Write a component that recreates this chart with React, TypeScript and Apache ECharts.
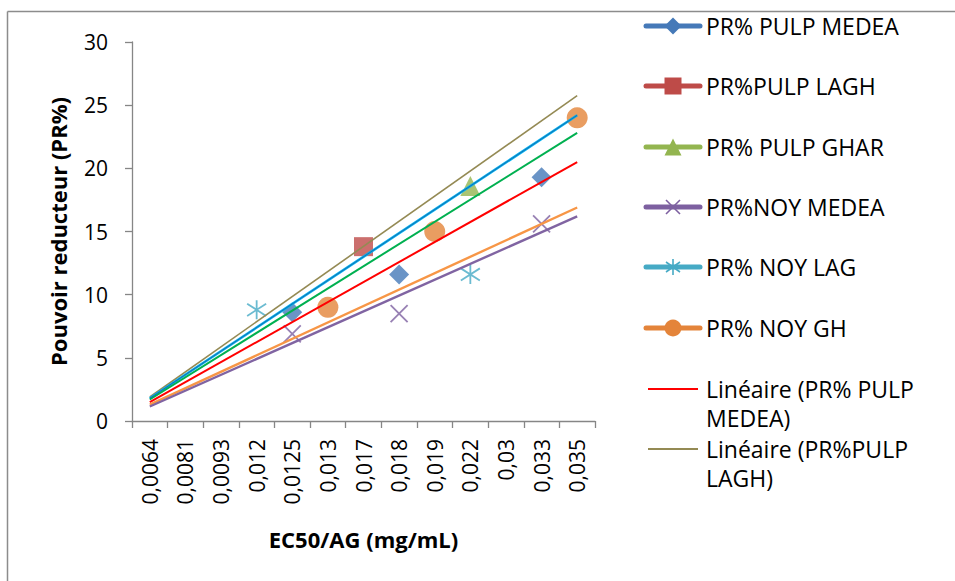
import React, { useEffect, useRef } from "react";
import * as echarts from "echarts";

// EC50/AG values (category axis labels)
const categories = [
  "0,0064", "0,0081", "0,0093", "0,012", "0,0125", "0,013", "0,017",
  "0,018", "0,019", "0,022", "0,03", "0,033", "0,035",
];

// Pouvoir réducteur per extract (null = no measurement at that EC50)
const pulpMedea = [null, null, null, null, 8.6, null, null, 11.6, null, null, null, 19.3, null];
const pulpLagh = [null, null, null, null, null, null, 13.8, null, null, null, null, null, null];
const pulpGhar = [null, null, null, null, null, null, null, null, null, 18.6, null, null, null];
const noyMedea = [null, null, null, null, 6.9, null, null, 8.5, null, null, null, 15.6, null];
const noyLag = [null, null, null, 8.8, null, null, null, null, null, 11.6, null, null, null];
const noyGh = [null, null, null, null, null, 9.0, null, null, 15.0, null, null, null, 24.0];

// Linear trend lines: value at first and last category
const trendPulpMedea = [1.5, 20.5];
const trendPulpLagh = [1.9, 25.75];
const trendPulpGhar = [1.7, 22.8];
const trendNoyMedea = [1.15, 16.2];
const trendNoyLag = [1.8, 24.2];
const trendNoyGh = [1.3, 16.9];

const yTicks = { min: 0, max: 30, interval: 5 };

const FONT = '"Open Sans", "Noto Sans", sans-serif';
const AXIS_GREY = "#868686";

const C = {
  blue: "#4579B8",
  red: "#BE4B48",
  green: "#93B550",
  purple: "#7D60A0",
  cyan: "#46AAC5",
  orange: "#E4843A",
};

const X_PATH = "path://M0,0L10,10M10,0L0,10";
const STAR_PATH = "path://M5,0L5,10M0.8,1.8L9.2,8.2M0.8,8.2L9.2,1.8";

function trend(name: string, ends: number[], color: string, width: number, z = 3) {
  return {
    type: "line",
    name,
    data: [
      [categories[0], ends[0]],
      [categories[categories.length - 1], ends[1]],
    ],
    symbol: "none",
    silent: true,
    lineStyle: { color, width },
    z,
  };
}

// Legend entries drawn at fixed rows on the right
const legendRows = [26, 86, 147, 207, 267, 328, 389, 449];
const LEGEND_LINE_HEIGHT = 29;

function legendMarker(kind: string, color: string, cx: number, cy: number): any[] {
  const s = 8.5;
  switch (kind) {
    case "diamond":
      return [{ type: "polygon", shape: { points: [[cx, cy - s], [cx + s, cy], [cx, cy + s], [cx - s, cy]] }, style: { fill: color } }];
    case "rect":
      return [{ type: "rect", shape: { x: cx - s, y: cy - s, width: 2 * s, height: 2 * s }, style: { fill: color } }];
    case "triangle":
      return [{ type: "polygon", shape: { points: [[cx, cy - s], [cx + s, cy + s], [cx - s, cy + s]] }, style: { fill: color } }];
    case "circle":
      return [{ type: "circle", shape: { cx, cy, r: s }, style: { fill: color } }];
    case "x":
      return [
        { type: "line", shape: { x1: cx - 7, y1: cy - 7, x2: cx + 7, y2: cy + 7 }, style: { stroke: color, lineWidth: 1.6 } },
        { type: "line", shape: { x1: cx + 7, y1: cy - 7, x2: cx - 7, y2: cy + 7 }, style: { stroke: color, lineWidth: 1.6 } },
      ];
    case "star":
      return [
        { type: "line", shape: { x1: cx, y1: cy - 8, x2: cx, y2: cy + 8 }, style: { stroke: color, lineWidth: 1.6 } },
        { type: "line", shape: { x1: cx - 7, y1: cy - 5, x2: cx + 7, y2: cy + 5 }, style: { stroke: color, lineWidth: 1.6 } },
        { type: "line", shape: { x1: cx - 7, y1: cy + 5, x2: cx + 7, y2: cy - 5 }, style: { stroke: color, lineWidth: 1.6 } },
      ];
    default:
      return [];
  }
}

function buildLegend(): any[] {
  const items = [
    { name: "PR% PULP MEDEA", color: C.blue, marker: "diamond" },
    { name: "PR%PULP LAGH", color: C.red, marker: "rect" },
    { name: "PR% PULP GHAR", color: C.green, marker: "triangle" },
    { name: "PR%NOY MEDEA", color: C.purple, marker: "x" },
    { name: "PR% NOY LAG", color: C.cyan, marker: "star" },
    { name: "PR% NOY GH", color: C.orange, marker: "circle" },
    { name: "Linéaire (PR% PULP\nMEDEA)", color: "#FF0000", marker: "trend" },
    { name: "Linéaire (PR%PULP\nLAGH)", color: "#948A54", marker: "trend" },
  ];
  const out: any[] = [];
  const x1 = 646;
  const x2 = 700;
  const cx = (x1 + x2) / 2;
  items.forEach((it, i) => {
    const y = legendRows[i];
    if (it.marker === "trend") {
      out.push({ type: "line", shape: { x1: x1 + 2, y1: y, x2: x2 - 2, y2: y }, style: { stroke: it.color, lineWidth: 2 } });
    } else {
      out.push({ type: "line", shape: { x1, y1: y, x2, y2: y }, style: { stroke: it.color, lineWidth: 5, lineCap: "round" } });
      out.push(...legendMarker(it.marker, it.color, cx, y));
    }
    out.push({
      type: "text",
      x: 706,
      y: y - LEGEND_LINE_HEIGHT / 2,
      style: {
        text: it.name,
        font: `23px ${FONT}`,
        fill: "#000",
        verticalAlign: "top",
        lineHeight: LEGEND_LINE_HEIGHT,
      },
    });
  });
  return out;
}

export default function App() {
  const ref = useRef<HTMLDivElement>(null);

  useEffect(() => {
    if (!ref.current) return;
    const chart = echarts.init(ref.current, undefined, { renderer: "svg" });
    chart.setOption({
      animation: false,
      backgroundColor: "#fff",
      textStyle: { fontFamily: FONT },
      grid: { left: 132, top: 42, width: 463, height: 379, containLabel: false },
      xAxis: {
        type: "category",
        data: categories,
        boundaryGap: true,
        name: "EC50/AG (mg/mL)",
        nameLocation: "middle",
        nameGap: 107,
        nameTextStyle: { fontFamily: FONT, fontSize: 22, fontWeight: "bold", color: "#000" },
        axisLine: { lineStyle: { color: AXIS_GREY, width: 1.3 } },
        axisTick: { show: true, length: 7, lineStyle: { color: AXIS_GREY, width: 1.3 } },
        axisLabel: { rotate: 90, margin: 18, fontSize: 21, color: "#000", fontFamily: FONT, interval: 0 },
        splitLine: { show: false },
      },
      yAxis: {
        type: "value",
        min: yTicks.min,
        max: yTicks.max,
        interval: yTicks.interval,
        name: "Pouvoir reducteur (PR%)",
        nameLocation: "middle",
        nameGap: 63,
        nameTextStyle: { fontFamily: FONT, fontSize: 22, fontWeight: "bold", color: "#000" },
        axisLine: { show: true, lineStyle: { color: AXIS_GREY, width: 1.3 } },
        axisTick: { show: true, length: 7, lineStyle: { color: AXIS_GREY, width: 1.3 } },
        axisLabel: { margin: 24, fontSize: 21, color: "#000", fontFamily: FONT },
        splitLine: { show: false },
      },
      series: [
        { type: "scatter", name: "PR% PULP MEDEA", data: pulpMedea, symbol: "diamond", symbolSize: 20, itemStyle: { color: C.blue }, z: 2 },
        { type: "scatter", name: "PR%PULP LAGH", data: pulpLagh, symbol: "rect", symbolSize: 19, itemStyle: { color: C.red }, z: 2 },
        { type: "scatter", name: "PR% PULP GHAR", data: pulpGhar, symbol: "triangle", symbolSize: 20, itemStyle: { color: C.green }, z: 2 },
        {
          type: "scatter", name: "PR%NOY MEDEA", data: noyMedea, symbol: X_PATH, symbolSize: 17,
          itemStyle: { color: "none", borderColor: C.purple, borderWidth: 1.8 }, z: 2,
        },
        {
          type: "scatter", name: "PR% NOY LAG", data: noyLag, symbol: STAR_PATH, symbolSize: 19,
          itemStyle: { color: "none", borderColor: C.cyan, borderWidth: 1.8 }, z: 2,
        },
        { type: "scatter", name: "PR% NOY GH", data: noyGh, symbol: "circle", symbolSize: 21, itemStyle: { color: C.orange }, z: 2 },
        trend("Linéaire (PR%PULP LAGH)", trendPulpLagh, "#948A54", 1.6),
        trend("Linéaire (PR% NOY LAG)", trendNoyLag, "#00B0F0", 2.6),
        trend("Linéaire (PR% NOY LAG) ", trendNoyLag, "#1F5FA0", 0.8, 4),
        trend("Linéaire (PR% PULP GHAR)", trendPulpGhar, "#00B050", 2),
        trend("Linéaire (PR% PULP MEDEA)", trendPulpMedea, "#FF0000", 2),
        trend("Linéaire (PR% NOY GH)", trendNoyGh, "#F79646", 2.4),
        trend("Linéaire (PR%NOY MEDEA)", trendNoyMedea, "#8064A2", 2.4),
      ],
      graphic: [
        { type: "line", shape: { x1: 7.5, y1: 11.5, x2: 955, y2: 11.5 }, style: { stroke: "#8C8C8C", lineWidth: 1.5 } },
        { type: "line", shape: { x1: 7.5, y1: 11.5, x2: 7.5, y2: 581 }, style: { stroke: "#8C8C8C", lineWidth: 1.5 } },
        ...buildLegend(),
      ],
    });
    return () => chart.dispose();
  }, []);

  return (
    <div
      ref={ref}
      style={{ position: "fixed", left: 0, top: 0, width: 955, height: 581, background: "#fff" }}
    />
  );
}
